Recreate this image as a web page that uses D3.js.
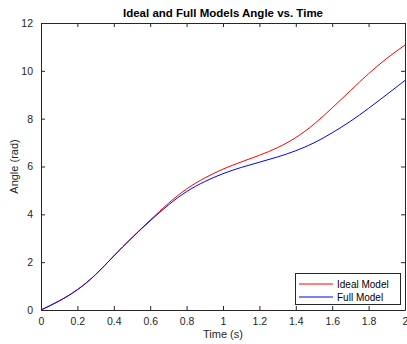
<!DOCTYPE html>
<html>
<head>
<meta charset="utf-8">
<script src="https://cdn.jsdelivr.net/npm/d3@7"></script>
<style>
  body { margin: 0; background: #fff; }
  text { font-family: "Liberation Sans", Arial, sans-serif; fill: #262626; }
</style>
</head>
<body>
<svg id="chart" width="407" height="344"></svg>
<script>
// time samples (s)
let time = [0, 0.1, 0.2, 0.3, 0.4, 0.5, 0.6, 0.7, 0.8, 0.9, 1.0,
            1.1, 1.2, 1.3, 1.4, 1.5, 1.6, 1.7, 1.8, 1.9, 2.0];
// angle (rad)
let ideal = [0, 0.38, 0.85, 1.48, 2.26, 3.03, 3.76, 4.46, 5.06, 5.52, 5.89,
             6.19, 6.47, 6.79, 7.21, 7.77, 8.45, 9.17, 9.88, 10.52, 11.08];
let full  = [0, 0.38, 0.85, 1.48, 2.26, 3.02, 3.73, 4.39, 4.95, 5.37, 5.70,
             5.96, 6.18, 6.40, 6.66, 6.99, 7.41, 7.89, 8.43, 9.01, 9.60];
let xTicks = [0, 0.2, 0.4, 0.6, 0.8, 1, 1.2, 1.4, 1.6, 1.8, 2];
let yTicks = [0, 2, 4, 6, 8, 10, 12];

let svg = d3.select("#chart");
let plotLeft = 41, plotRight = 405, plotTop = 23, plotBottom = 310;

let x = d3.scaleLinear().domain([0, 2]).range([plotLeft, plotRight]);
let y = d3.scaleLinear().domain([0, 12]).range([plotBottom, plotTop]);

let axisColor = "#262626";

// axes with inward ticks on all four sides
let xb = svg.append("g").attr("transform", "translate(0," + plotBottom + ")")
    .call(d3.axisBottom(x).tickValues(xTicks).tickSizeInner(-4).tickSizeOuter(0).tickPadding(8).tickFormat(d3.format("")));
let xt = svg.append("g").attr("transform", "translate(0," + plotTop + ")")
    .call(d3.axisTop(x).tickValues(xTicks).tickSizeInner(-4).tickSizeOuter(0).tickFormat(""));
let yl = svg.append("g").attr("transform", "translate(" + plotLeft + ",0)")
    .call(d3.axisLeft(y).tickValues(yTicks).tickSizeInner(-4).tickSizeOuter(0).tickPadding(8));
let yr = svg.append("g").attr("transform", "translate(" + plotRight + ",0)")
    .call(d3.axisRight(y).tickValues(yTicks).tickSizeInner(-4).tickSizeOuter(0).tickFormat(""));

[xb, xt, yl, yr].forEach(function(g) {
    g.selectAll("path").attr("stroke", axisColor).attr("stroke-width", 1);
    g.selectAll("line").attr("stroke", axisColor);
    g.selectAll("text").attr("fill", axisColor).style("font-size", "10.5px").style("font-family", "Liberation Sans, Arial, sans-serif");
});

let line = d3.line()
    .x(function(d, i) { return x(time[i]); })
    .y(function(d) { return y(d); })
    .curve(d3.curveNatural);

svg.append("path").datum(ideal)
    .attr("d", line).attr("fill", "none").attr("stroke", "#ff0000").attr("stroke-width", 1);
svg.append("path").datum(full)
    .attr("d", line).attr("fill", "none").attr("stroke", "#0000ff").attr("stroke-width", 1);

// title and labels
svg.append("text").attr("x", (plotLeft + plotRight) / 2).attr("y", 17)
    .attr("text-anchor", "middle").style("font-size", "11.5px").style("font-weight", "bold")
    .style("fill", "#000").text("Ideal and Full Models Angle vs. Time");
svg.append("text").attr("x", (plotLeft + plotRight) / 2).attr("y", 338)
    .attr("text-anchor", "middle").style("font-size", "11px").text("Time (s)");
svg.append("text").attr("transform", "translate(18," + ((plotTop + plotBottom) / 2) + ") rotate(-90)")
    .attr("text-anchor", "middle").style("font-size", "11px").text("Angle (rad)");

// legend
let lg = svg.append("g");
lg.append("rect").attr("x", 295.5).attr("y", 273.5).attr("width", 105).attr("height", 31)
    .attr("fill", "#fff").attr("stroke", axisColor).attr("stroke-width", 1);
let items = [["Ideal Model", "#ff0000"], ["Full Model", "#0000ff"]];
items.forEach(function(it, i) {
    let yy = 284 + i * 13;
    lg.append("line").attr("x1", 299).attr("x2", 333).attr("y1", yy).attr("y2", yy)
        .attr("stroke", it[1]).attr("stroke-width", 1);
    lg.append("text").attr("x", 337).attr("y", yy + 3.5).style("font-size", "10px").style("fill", "#000").text(it[0]);
});
</script>
</body>
</html>
